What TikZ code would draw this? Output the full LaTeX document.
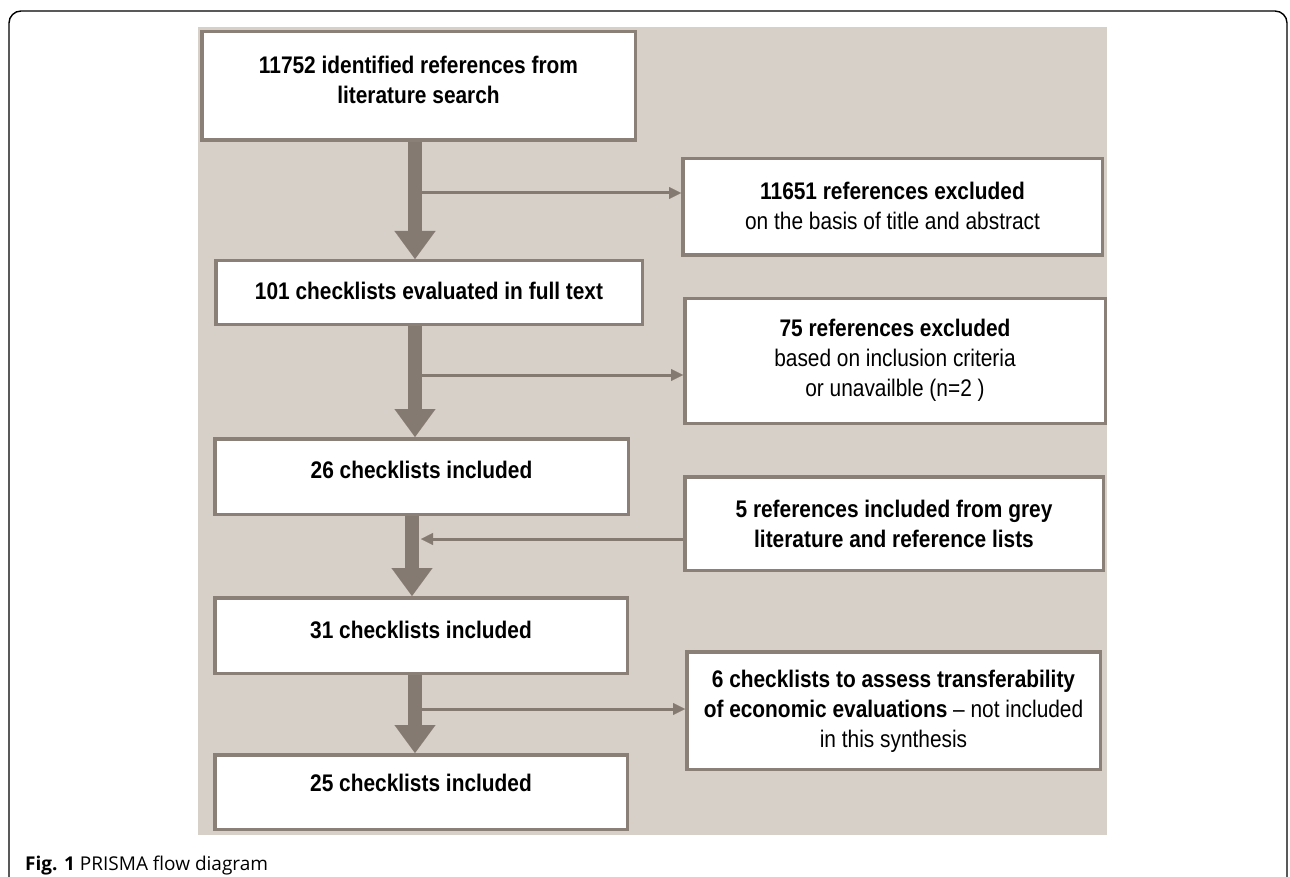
\documentclass[tikz,border=0pt]{standalone}
\usepackage{fontspec}
\setmainfont{Liberation Sans}
\newfontfamily\cond[FakeStretch=0.87]{Liberation Sans}
\newfontfamily\capfont{Open Sans}
\usetikzlibrary{arrows.meta}
\definecolor{panel}{HTML}{D7D0C9}
\definecolor{edge}{HTML}{8A8078}
\definecolor{arr}{HTML}{857A72}
\begin{document}
\begin{tikzpicture}[x=1pt,y=-1pt,
  box/.style={draw=edge, line width=3.5pt, fill=white, inner sep=0pt},
  txt/.style={font=\cond\fontsize{24}{30}\selectfont, align=center, text=black, inner sep=0pt},
  bigarrow/.style={draw=arr, line width=14pt, -{Triangle[width=41pt,length=28pt,line width=0.1pt]}},
  thinarrow/.style={draw=arr, line width=3pt, -{Triangle[width=12pt,length=12pt,line width=0.1pt]}},
  frame/.style={draw=black, line width=1.4pt, rounded corners=12pt}
]
\useasboundingbox (0,0) rectangle (1290,877);
\draw[frame] (9,880) -- (9,11) -- (1287,11) -- (1287,880);
\fill[panel] (198,27) rectangle (1107,835);

% boxes
\node[box, minimum width=433.5pt, minimum height=108.5pt] (b1) at (418.5,86) {};
\node[box, minimum width=426.5pt, minimum height=63.5pt] (b2) at (429,292.5) {};
\node[box, minimum width=413.5pt, minimum height=75.5pt] (b3) at (421.5,476.5) {};
\node[box, minimum width=412.5pt, minimum height=75.5pt] (b4) at (421,635.5) {};
\node[box, minimum width=412.5pt, minimum height=74.5pt] (b5) at (421,792) {};
\node[box, minimum width=419.5pt, minimum height=96.5pt] (r1) at (892.5,207) {};
\node[box, minimum width=420.5pt, minimum height=124.5pt] (r2) at (895,361) {};
\node[box, minimum width=418.5pt, minimum height=93.5pt] (r3) at (894,523.5) {};
\node[box, minimum width=413.5pt, minimum height=117.5pt] (r4) at (893.5,710.5) {};

% texts
\node[txt] (t1) at (418.5,80) {\textbf{11752 identified references from}\\\textbf{literature search}};
\node[txt] (t2) at (429,291) {\textbf{101 checklists evaluated in full text}};
\node[txt] (t3) at (421.5,470) {\textbf{26 checklists included}};
\node[txt] (t4) at (421,630) {\textbf{31 checklists included}};
\node[txt] (t5) at (421,783) {\textbf{25 checklists included}};
\node[txt] (u1) at (892.5,206) {\textbf{11651 references excluded}\\on the basis of title and abstract};
\node[txt] (u2) at (895,360) {\textbf{75 references excluded}\\based on inclusion criteria\\or unavailble (n=2 )};
\node[txt] (u3) at (894,524) {\textbf{5 references included from grey}\\\textbf{literature and reference lists}};
\node[txt] (u4) at (893.5,711) {\textbf{6 checklists to assess transferability}\\\textbf{of economic evaluations} \textendash{} not included\\in this synthesis};

% junctions and shaft lines
\coordinate (s1) at (415,0);
\coordinate (s2) at (415,0);
\coordinate (s3) at (412,0);
\coordinate (s4) at (415,0);
\coordinate (j1) at (415,193);
\coordinate (j2) at (415,375);
\coordinate (j3) at (421,539);
\coordinate (j4) at (415,709);

\draw[thinarrow] (j1) -- (j1 -| r1.west);
\draw[thinarrow] (j2) -- (j2 -| r2.west);
\draw[thinarrow] (r3.west |- j3) -- (j3);
\draw[thinarrow] (j4) -- (j4 -| r4.west);

\draw[bigarrow] (b1.south -| s1) -- (b2.north -| s1);
\draw[bigarrow] (b2.south -| s2) -- (b3.north -| s2);
\draw[bigarrow] (b3.south -| s3) -- (b4.north -| s3);
\draw[bigarrow] (b4.south -| s4) -- (b5.north -| s4);

\node[anchor=base west, inner sep=0pt, font=\capfont\fontsize{19}{22}\selectfont] (cap) at (25,870) {\textbf{Fig. 1} PRISMA flow diagram};
\end{tikzpicture}
\end{document}
